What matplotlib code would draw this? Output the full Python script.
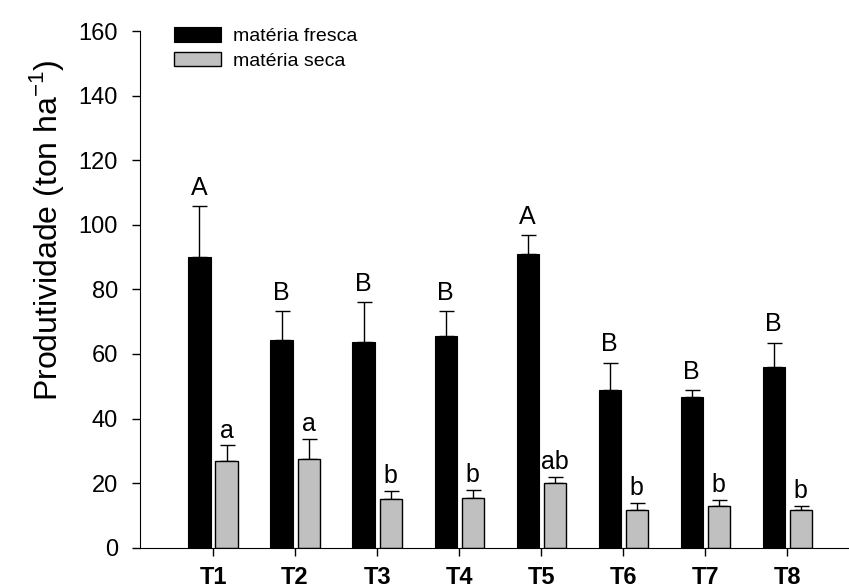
import numpy as np
import matplotlib.pyplot as plt

plt.rcParams['font.family'] = ['Liberation Sans', 'DejaVu Sans']

treatments = ["T1", "T2", "T3", "T4", "T5", "T6", "T7", "T8"]
fresca = [89.9, 64.2, 63.8, 65.4, 91.1, 48.8, 46.7, 56.0]
fresca_err = [15.8, 9.1, 12.3, 7.8, 5.8, 8.5, 2.2, 7.5]
fresca_letters = ["A", "B", "B", "B", "A", "B", "B", "B"]
seca = [26.8, 27.5, 15.2, 15.5, 20.1, 11.7, 12.9, 11.7]
seca_err = [4.9, 6.1, 2.4, 2.4, 1.9, 2.2, 1.8, 1.3]
seca_letters = ["a", "a", "b", "b", "ab", "b", "b", "b"]

x = np.arange(1, len(treatments) + 1)
width = 0.27
offset = 0.165

fig = plt.figure(figsize=(8.49, 5.84), dpi=100)
ax = fig.add_axes([140 / 849, 1 - 547.7 / 584, 708 / 849, 516.7 / 584])

ax.bar(x - offset, fresca, width, color="black", edgecolor="black", linewidth=0.8,
       label="matéria fresca", zorder=2)
ax.bar(x + offset, seca, width, color="#c0c0c0", edgecolor="black", linewidth=1.0,
       label="matéria seca", zorder=2)
ax.errorbar(x - offset, fresca, yerr=[np.zeros(len(x)), fresca_err], fmt="none",
            ecolor="black", elinewidth=1, capsize=5.4, capthick=1, zorder=1)
ax.errorbar(x + offset, seca, yerr=[np.zeros(len(x)), seca_err], fmt="none",
            ecolor="black", elinewidth=1, capsize=5.4, capthick=1, zorder=1)

for xi, v, e, t in zip(x - offset, fresca, fresca_err, fresca_letters):
    ax.annotate(t, (xi, v + e), xytext=(0, 4.5), textcoords="offset points",
                ha="center", va="bottom", fontsize=18)
for xi, v, e, t in zip(x + offset, seca, seca_err, seca_letters):
    ax.annotate(t, (xi, v + e), xytext=(0, 2), textcoords="offset points",
                ha="center", va="bottom", fontsize=18)

ax.set_xlim(0.11, 8.74)
ax.set_ylim(0, 160)
ax.set_yticks(np.arange(0, 161, 20))
ax.set_xticks(x)
ax.set_xticklabels(treatments, fontweight="bold", fontsize=17)
ax.tick_params(axis="y", labelsize=17, direction="out", length=5.5, width=1, pad=10.5)
ax.tick_params(axis="x", direction="out", length=5.5, width=1, pad=7.5)
ax.spines["top"].set_visible(False)
ax.spines["right"].set_visible(False)
ax.set_ylabel("Produtividade (ton ha$^{\\mathregular{-1}}$)", fontsize=23)
ax.yaxis.set_label_coords(-0.105, 0.615)

ax.legend(loc="upper left", bbox_to_anchor=(0.048, 1.0077), frameon=False,
          borderpad=0, borderaxespad=0, fontsize=14, handlelength=2.42,
          handleheight=0.77, labelspacing=0.35, handletextpad=0.6)

fig.savefig("out.png", dpi=100)
